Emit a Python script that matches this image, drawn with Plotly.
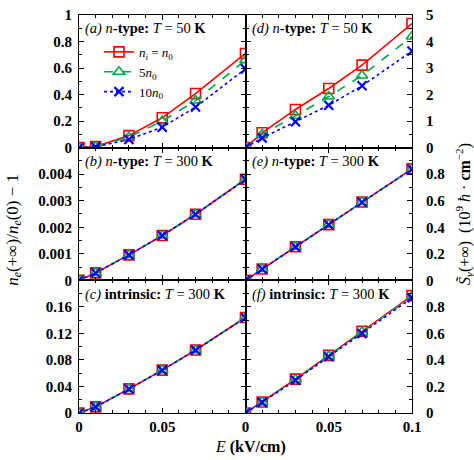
import plotly.graph_objects as go
from plotly.subplots import make_subplots

# field values (kV/cm)
E = [0, 0.01, 0.03, 0.05, 0.07, 0.1]

# (a) n-type, T = 50 K : n_e(+inf)/n_e(0) - 1
a_n0 = [0, 0.008, 0.091, 0.225, 0.408, 0.71]
a_5n0 = [0, 0.007, 0.08, 0.2, 0.355, 0.66]
a_10n0 = [0, 0.006, 0.062, 0.154, 0.306, 0.594]

# (b) n-type, T = 300 K
b_n0 = [0, 0.00028, 0.00096, 0.00169, 0.00249, 0.00381]
b_5n0 = [0, 0.00028, 0.00096, 0.00169, 0.00249, 0.00381]
b_10n0 = [0, 0.00028, 0.00096, 0.00169, 0.00249, 0.0038]

# (c) intrinsic, T = 300 K
c_n0 = [0, 0.0093, 0.0363, 0.0647, 0.095, 0.144]
c_5n0 = [0, 0.0093, 0.0363, 0.0647, 0.095, 0.144]
c_10n0 = [0, 0.0092, 0.0362, 0.0646, 0.0948, 0.1435]

# (d) n-type, T = 50 K : S_y(+inf)
d_n0 = [0, 0.56, 1.44, 2.23, 3.11, 4.68]
d_5n0 = [0, 0.5, 1.2, 1.93, 2.72, 4.19]
d_10n0 = [0, 0.37, 0.98, 1.6, 2.33, 3.64]

# (e) n-type, T = 300 K
e_n0 = [0, 0.086, 0.253, 0.42, 0.59, 0.84]
e_5n0 = [0, 0.086, 0.253, 0.42, 0.59, 0.84]
e_10n0 = [0, 0.085, 0.252, 0.419, 0.589, 0.838]

# (f) intrinsic, T = 300 K
f_n0 = [0, 0.083, 0.255, 0.434, 0.615, 0.885]
f_5n0 = [0, 0.082, 0.252, 0.43, 0.61, 0.878]
f_10n0 = [0, 0.08, 0.247, 0.424, 0.6, 0.868]

series_names = ["<i>n</i><sub><i>i</i></sub> = <i>n</i><sub>0</sub>",
                "5<i>n</i><sub>0</sub>", "10<i>n</i><sub>0</sub>"]
colors = ["#ff0000", "#00a848", "#0000ff"]
dashes = ["solid", "dash", "dot"]
symbols = ["square-open", "triangle-up-open", "x-thin-open"]

panels = [
    (1, 1, [a_n0, a_5n0, a_10n0], "(a)", "<i>n</i><b>-type:</b>", "50"),
    (2, 1, [b_n0, b_5n0, b_10n0], "(b)", "<i>n</i><b>-type:</b>", "300"),
    (3, 1, [c_n0, c_5n0, c_10n0], "(c)", "<b>intrinsic:</b>", "300"),
    (1, 2, [d_n0, d_5n0, d_10n0], "(d)", "<i>n</i><b>-type:</b>", "50"),
    (2, 2, [e_n0, e_5n0, e_10n0], "(e)", "<i>n</i><b>-type:</b>", "300"),
    (3, 2, [f_n0, f_5n0, f_10n0], "(f)", "<b>intrinsic:</b>", "300"),
]

# y axis settings per panel: range, tick values, tick text, minor step
yaxes = {
    (1, 1): ([0, 1], [0, 0.2, 0.4, 0.6, 0.8, 1], ["0", "0.2", "0.4", "0.6", "0.8", "1"], 0.1),
    (2, 1): ([0, 0.005], [0, 0.001, 0.002, 0.003, 0.004, 0.005], ["0", "0.001", "0.002", "0.003", "0.004", ""], 0.0005),
    (3, 1): ([0, 0.2], [0, 0.04, 0.08, 0.12, 0.16, 0.2], ["0", "0.04", "0.08", "0.12", "0.16", ""], 0.02),
    (1, 2): ([0, 5], [0, 1, 2, 3, 4, 5], ["0", "1", "2", "3", "4", "5"], 0.5),
    (2, 2): ([0, 1], [0, 0.2, 0.4, 0.6, 0.8, 1], ["0", "0.2", "0.4", "0.6", "0.8", ""], 0.1),
    (3, 2): ([0, 1], [0, 0.2, 0.4, 0.6, 0.8, 1], ["0", "0.2", "0.4", "0.6", "0.8", ""], 0.1),
}

FONT = "Liberation Serif"

fig = make_subplots(rows=3, cols=2, horizontal_spacing=0, vertical_spacing=0)

for row, col, ys, tag, kind, temp in panels:
    for i in range(3):
        fig.add_trace(go.Scatter(
            x=E, y=ys[i], mode="lines+markers",
            name=series_names[i],
            showlegend=(row == 1 and col == 1),
            line=dict(color=colors[i], dash=dashes[i], width=1.6),
            marker=dict(symbol=symbols[i], size=10 if i < 2 else 9, color=colors[i],
                        line=dict(color=colors[i], width=1.6 if i < 2 else 2.2)),
        ), row=row, col=col)

    yr, yv, yt, ymin = yaxes[(row, col)]
    fig.update_yaxes(range=yr, tickvals=yv, ticktext=yt,
                     side="left" if col == 1 else "right",
                     ticklabelstandoff=3 if col == 1 else 10,
                     ticklabeloverflow="allow",
                     ticks="inside", ticklen=5, tickcolor="black",
                     minor=dict(dtick=ymin, ticks="inside", ticklen=3, tickcolor="black"),
                     showline=True, linecolor="black", linewidth=1, mirror="ticks",
                     showgrid=False, zeroline=False,
                     tickfont=dict(family=FONT, size=15, color="black", weight="bold"),
                     row=row, col=col)

    if row == 3:
        xt = ["0", "0.05", ""] if col == 1 else ["0", "0.05", "0.1"]
    else:
        xt = ["", "", ""]
    fig.update_xaxes(range=[0, 0.1], tickvals=[0, 0.05, 0.1], ticktext=xt,
                     ticks="inside", ticklen=5, tickcolor="black",
                     minor=dict(dtick=0.01, ticks="inside", ticklen=3, tickcolor="black"),
                     showline=True, linecolor="black", linewidth=1, mirror="ticks",
                     showgrid=False, zeroline=False,
                     tickfont=dict(family=FONT, size=15, color="black", weight="bold"),
                     row=row, col=col)

    idx = (row - 1) * 2 + col
    sfx = "" if idx == 1 else str(idx)
    fig.add_annotation(
        text="<i>" + tag + "</i> " + kind + " <i>T</i> = " + temp + " <b>K</b>",
        xref="x" + sfx + " domain", yref="y" + sfx + " domain",
        x=0.025, y=0.975, xanchor="left", yanchor="top", showarrow=False,
        font=dict(family=FONT, size=14.5, color="black"))

# axis titles
fig.add_annotation(text="<i>n</i><sub><i>e</i></sub>(+∞)/<i>n</i><sub><i>e</i></sub>(0) − 1",
                   xref="paper", yref="paper", x=-0.235, y=0.46, textangle=-90,
                   showarrow=False, font=dict(family=FONT, size=17, color="black"))
fig.add_annotation(text="<i>S̃</i><sub><i>y</i></sub>(+∞)  (10<sup>9</sup> <i>ħ</i> · <b>cm</b><sup>−2</sup>)",
                   xref="paper", yref="paper", x=1.195, y=0.5, textangle=-90,
                   showarrow=False, font=dict(family=FONT, size=16, color="black"))
fig.add_annotation(text="<i>E</i> <b>(kV/cm)</b>",
                   xref="paper", yref="paper", x=0.515, y=-0.058, yanchor="top",
                   showarrow=False, font=dict(family=FONT, size=16, color="black"))

fig.update_layout(
    width=474, height=460,
    margin=dict(l=79, r=62, t=7, b=47),
    paper_bgcolor="white", plot_bgcolor="white",
    font=dict(family=FONT, color="black"),
    legend=dict(x=0.06, y=0.945, xanchor="left", yanchor="top",
                bgcolor="rgba(0,0,0,0)", tracegroupgap=0,
                font=dict(family=FONT, size=13, color="black")),
)

# drop the browser's default body margin so the figure sits at the window origin
fig.write_html("out.html", config={"displayModeBar": False},
               post_script="document.body.style.margin='0';")
